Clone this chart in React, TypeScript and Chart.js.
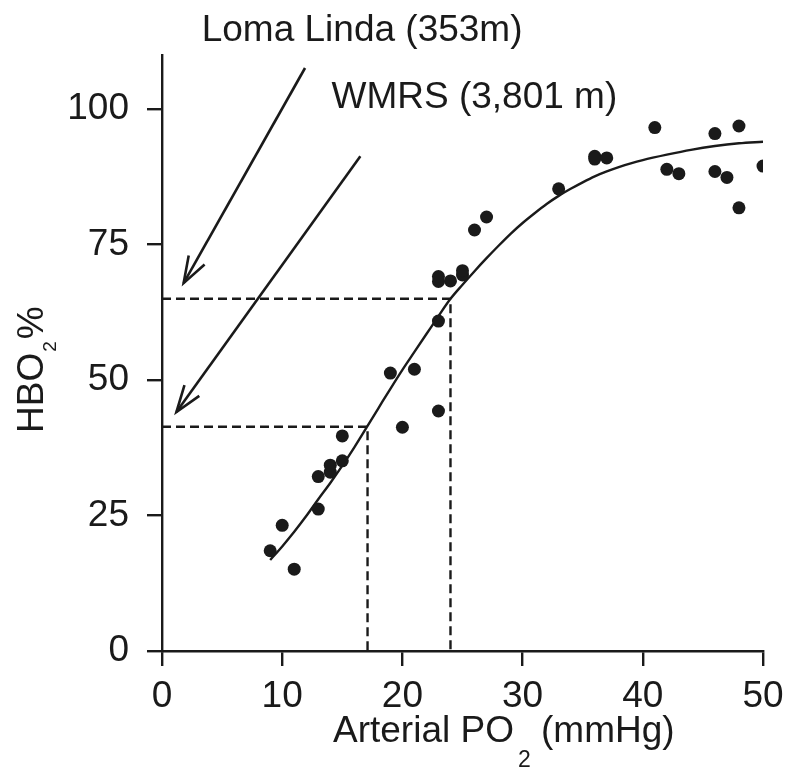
import React, { useEffect, useRef } from 'react';
import { Chart, registerables } from 'chart.js';

Chart.register(...registerables);

// Measured points: arterial PO2 (mmHg) vs HbO2 saturation (%)
const pointPO2 = [9, 10, 11, 13, 13, 14, 14, 15, 15, 19, 20, 21, 23, 23, 23, 23, 24, 25, 25, 26, 27, 33, 36, 36, 37, 41, 42, 43, 46, 46, 47, 48, 48, 50];
const pointHbO2 = [18.5, 23.2, 15.1, 26.2, 32.2, 33.0, 34.3, 35.1, 39.7, 51.3, 41.3, 52.0, 44.3, 60.9, 68.2, 69.1, 68.3, 69.4, 70.2, 77.7, 80.1, 85.3, 91.3, 90.8, 91.0, 96.6, 88.9, 88.1, 95.5, 88.5, 87.4, 96.9, 81.8, 89.5];

// Fitted curve
const curvePO2 = [9, 10, 11, 12, 13, 14, 15, 16, 17, 18, 19, 20, 21, 22, 23, 24, 25, 26, 27, 28, 29, 30, 31, 32, 33, 34, 35, 36, 37, 38, 39, 40, 42, 44, 46, 48, 50];
const curveHbO2 = [16.8, 19.3, 22.0, 24.9, 28.0, 31.0, 34.2, 37.6, 41.2, 44.8, 48.4, 51.9, 55.2, 58.5, 61.8, 65.0, 67.6, 70.1, 72.5, 74.8, 77.0, 79.0, 80.8, 82.5, 84.0, 85.3, 86.5, 87.6, 88.5, 89.3, 90.0, 90.6, 91.6, 92.5, 93.2, 93.7, 94.0];

// Dashed guide lines (Loma Linda, WMRS)
const guidePO2 = [24, 17.1];
const guideHbO2 = [65, 41.4];

// Annotation arrows and labels
const siteLabels = ['Loma Linda (353m)', 'WMRS (3,801 m)'];
const labelPO2 = [3.3, 14.1];
const labelHbO2 = [112.5, 100.2];
const arrowTailPO2 = [11.9, 16.5];
const arrowTailHbO2 = [107.6, 91.3];
const arrowTipPO2 = [1.8, 1.2];
const arrowTipHbO2 = [67.9, 44.1];

const xTicks = [0, 10, 20, 30, 40, 50];
const yTicks = [0, 25, 50, 75, 100];

const INK = '#1a1a1a';
const FONT = "'Liberation Sans', Arial, Helvetica, sans-serif";
const FS = 37;

const annotationPlugin = {
  id: 'annotations',
  afterDatasetsDraw(chart: any) {
    const { ctx, scales, chartArea } = chart;
    const xs = scales.x;
    const ys = scales.y;
    ctx.save();
    // arrows
    ctx.strokeStyle = INK;
    ctx.lineWidth = 2.6;
    ctx.lineCap = 'butt';
    ctx.lineJoin = 'miter';
    for (let i = 0; i < arrowTailPO2.length; i++) {
      const x1 = xs.getPixelForValue(arrowTailPO2[i]);
      const y1 = ys.getPixelForValue(arrowTailHbO2[i]);
      const x2 = xs.getPixelForValue(arrowTipPO2[i]);
      const y2 = ys.getPixelForValue(arrowTipHbO2[i]);
      ctx.beginPath();
      ctx.moveTo(x1, y1);
      ctx.lineTo(x2, y2);
      ctx.stroke();
      const ang = Math.atan2(y1 - y2, x1 - x2);
      const L = 28;
      const spread = (19 * Math.PI) / 180;
      ctx.beginPath();
      ctx.moveTo(x2 + L * Math.cos(ang - spread), y2 + L * Math.sin(ang - spread));
      ctx.lineTo(x2, y2);
      ctx.lineTo(x2 + L * Math.cos(ang + spread), y2 + L * Math.sin(ang + spread));
      ctx.stroke();
    }
    // labels
    ctx.fillStyle = INK;
    ctx.font = `${FS}px ${FONT}`;
    ctx.textAlign = 'left';
    ctx.textBaseline = 'alphabetic';
    for (let i = 0; i < siteLabels.length; i++) {
      ctx.fillText(siteLabels[i], xs.getPixelForValue(labelPO2[i]), ys.getPixelForValue(labelHbO2[i]));
    }
    // x-axis title with subscript
    {
      const baseY = chartArea.bottom + 91;
      let cx = chartArea.left + 171;
      ctx.font = `${FS}px ${FONT}`;
      const a = 'Arterial PO';
      ctx.fillText(a, cx, baseY);
      cx += ctx.measureText(a).width + 4;
      ctx.font = `23px ${FONT}`;
      ctx.fillText('2', cx, baseY + 25);
      cx += ctx.measureText('2').width;
      ctx.font = `${FS}px ${FONT}`;
      ctx.fillText(' (mmHg)', cx, baseY);
    }
    // y-axis title with subscript
    {
      ctx.translate(43, 433);
      ctx.rotate(-Math.PI / 2);
      let cx = 0;
      ctx.font = `${FS}px ${FONT}`;
      ctx.fillText('HBO', cx, 0);
      cx += ctx.measureText('HBO').width + 1;
      ctx.font = `19px ${FONT}`;
      ctx.fillText('2', cx, 13);
      cx += ctx.measureText('2').width + 2;
      ctx.font = `${FS}px ${FONT}`;
      ctx.fillText('%', cx, 0);
    }
    ctx.restore();
  },
};

export default function App() {
  const ref = useRef<HTMLCanvasElement | null>(null);

  useEffect(() => {
    const canvas = ref.current;
    if (!canvas) return;
    const pts = pointPO2.map((v, i) => ({ x: v, y: pointHbO2[i] }));
    const curve = curvePO2.map((v, i) => ({ x: v, y: curveHbO2[i] }));
    const guides = guidePO2.map((v, i) => ({
      label: `guide${i}`,
      data: [
        { x: 0, y: guideHbO2[i] },
        { x: v, y: guideHbO2[i] },
        { x: v, y: 0 },
      ],
      showLine: true,
      borderColor: INK,
      borderWidth: 2.4,
      borderDash: [9, 5],
      pointRadius: 0,
      fill: false,
      tension: 0,
      order: 3,
    }));

    const chart = new Chart(canvas, {
      type: 'scatter',
      data: {
        datasets: [
          {
            label: 'HbO2',
            data: pts,
            backgroundColor: INK,
            borderColor: INK,
            borderWidth: 0,
            pointRadius: 6.5,
            pointHoverRadius: 6.5,
            order: 1,
          } as any,
          {
            label: 'fit',
            data: curve,
            showLine: true,
            borderColor: INK,
            borderWidth: 2.4,
            pointRadius: 0,
            cubicInterpolationMode: 'monotone',
            fill: false,
            order: 2,
          } as any,
          ...(guides as any[]),
        ],
      },
      options: {
        animation: false,
        responsive: false,
        devicePixelRatio: 1,
        layout: { padding: { top: 55, right: 25, left: 0, bottom: 0 } },
        plugins: {
          legend: { display: false },
          tooltip: { enabled: false },
        },
        scales: {
          x: {
            type: 'linear',
            min: 0,
            max: 50,
            afterBuildTicks: (s: any) => {
              s.ticks = xTicks.map((v) => ({ value: v }));
            },
            afterFit: (s: any) => {
              s.height = 119;
              s.paddingLeft = 0;
              s.paddingRight = 0;
            },
            ticks: {
              stepSize: 10,
              color: INK,
              font: { family: FONT, size: FS },
              padding: 9,
              maxRotation: 0,
            },
            grid: {
              drawOnChartArea: false,
              drawTicks: true,
              tickLength: 15,
              color: INK,
              lineWidth: 2.4,
            },
            border: { display: true, color: INK, width: 2.4 },
          },
          y: {
            type: 'linear',
            min: 0,
            max: 110,
            afterBuildTicks: (s: any) => {
              s.ticks = yTicks.map((v) => ({ value: v }));
            },
            afterFit: (s: any) => {
              s.width = 162;
              s.paddingTop = 0;
              s.paddingBottom = 0;
            },
            ticks: {
              stepSize: 25,
              color: INK,
              font: { family: FONT, size: FS },
              padding: 18,
            },
            grid: {
              drawOnChartArea: false,
              drawTicks: true,
              tickLength: 15,
              color: INK,
              lineWidth: 2.4,
            },
            border: { display: true, color: INK, width: 2.4 },
          },
        },
      },
      plugins: [annotationPlugin],
    });
    return () => chart.destroy();
  }, []);

  return (
    <div style={{ position: 'fixed', left: 0, top: 0, width: 788, height: 770, background: '#fff' }}>
      <canvas ref={ref} width={788} height={770} style={{ display: 'block', width: 788, height: 770 }} />
    </div>
  );
}
